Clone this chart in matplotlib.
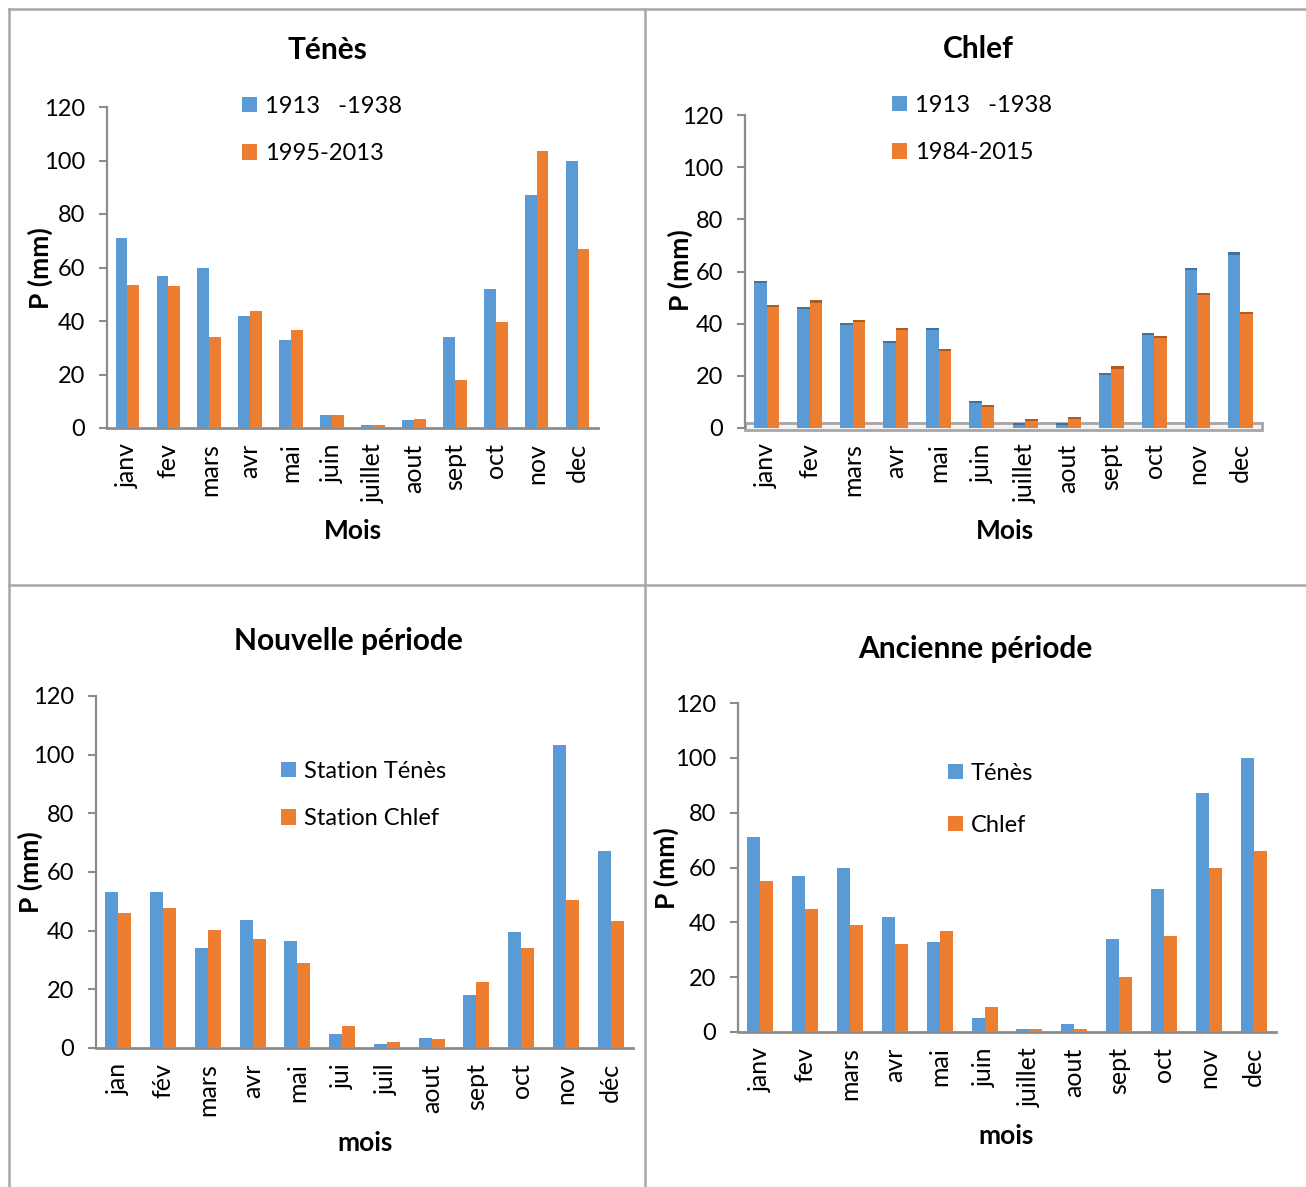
import numpy as np
import matplotlib
matplotlib.use("Agg")
import matplotlib.pyplot as plt
from matplotlib.patches import Patch, Rectangle
from matplotlib.lines import Line2D

plt.rcParams['font.family'] = ['Lato', 'DejaVu Sans']

# ---- data -------------------------------------------------------------
mois_a = ["janv", "fev", "mars", "avr", "mai", "juin", "juillet", "aout",
          "sept", "oct", "nov", "dec"]
mois_b = ["jan", "fév", "mars", "avr", "mai", "jui", "juil", "aout",
          "sept", "oct", "nov", "déc"]

tenes_1913_1938 = [71, 57, 60, 42, 33, 5, 1, 3, 34, 52, 87, 100]
tenes_1995_2013 = [53.5, 53.2, 34, 43.8, 36.6, 4.7, 1.2, 3.3, 18, 39.5, 103.5, 67]

chlef_1913_1938 = [56.3, 46.3, 40.3, 33.3, 38.2, 10.2, 2.0, 2.0, 21.2, 36.3, 61.3, 67.3]
chlef_1984_2015 = [47.3, 48.9, 41.5, 38.5, 30.2, 8.8, 3.3, 4.2, 23.6, 35.4, 51.7, 44.5]

nouv_tenes = [53.3, 53.2, 34, 43.7, 36.6, 4.7, 1.2, 3.3, 18, 39.5, 103.3, 67]
nouv_chlef = [46, 47.6, 40.3, 37.2, 29, 7.6, 2.1, 2.9, 22.4, 34.2, 50.3, 43.3]

anc_tenes = [71, 57, 60, 42, 33, 5, 1, 3, 34, 52, 87, 100]
anc_chlef = [55, 45, 39, 32, 37, 9, 1, 1, 20, 35, 60, 66]

yticks = [0, 20, 40, 60, 80, 100, 120]

BLUE = "#5B9BD5"
ORANGE = "#ED7D31"
BLUE_DK = "#41719C"
ORANGE_DK = "#AE5A21"
AXIS_GREY = "#8C8C8C"
FRAME_GREY = "#A6A6A6"

TITLE_FS = 21.5
LABEL_FS = 19
TICK_FS = 17
XTICK_FS = 18
LEG_FS = 17

W, H = 1306, 1187
fig = plt.figure(figsize=(W / 100, H / 100), dpi=100)
fig.patch.set_facecolor("white")


def fx(x):
    return x / W


def fy(y):
    return 1 - y / H


def px_axes(l, r, t, b):
    return fig.add_axes([fx(l), fy(b), (r - l) / W, (b - t) / H])


def style_axes(ax, labels, floor=False):
    ax.set_xlim(-0.5, 11.5)
    ax.set_ylim(0, 120)
    ax.set_yticks(yticks)
    ax.set_yticklabels([str(v) for v in yticks], fontsize=TICK_FS)
    ax.set_xticks(np.arange(12))
    ax.set_xticklabels(labels, rotation=90, fontsize=XTICK_FS)
    ax.tick_params(axis="x", length=0, pad=11)
    ax.tick_params(axis="y", length=6, width=1.5, color=AXIS_GREY, pad=10)
    for s in ("top", "right"):
        ax.spines[s].set_visible(False)
    ax.spines["left"].set_color(AXIS_GREY)
    ax.spines["left"].set_linewidth(1.6)
    ax.spines["bottom"].set_color(AXIS_GREY)
    ax.spines["bottom"].set_linewidth(2.0)
    if floor:
        ax.spines["bottom"].set_visible(False)
    ax.patch.set_alpha(0)


def draw_bars(ax, s1, s2, caps=False):
    x = np.arange(12)
    w = 0.29
    ax.bar(x - w / 2, s1, w, color=BLUE, zorder=3)
    ax.bar(x + w / 2, s2, w, color=ORANGE, zorder=3)
    if caps:
        cap = 0.8
        ax.bar(x - w / 2, [cap] * 12, w, bottom=np.array(s1) - cap,
               color=BLUE_DK, zorder=4)
        ax.bar(x + w / 2, [cap] * 12, w, bottom=np.array(s2) - cap,
               color=ORANGE_DK, zorder=4)


def add_legend(ax, labels, x, y, spacing):
    handles = [Patch(facecolor=BLUE, edgecolor="none"),
               Patch(facecolor=ORANGE, edgecolor="none")]
    ax.legend(handles, labels, loc="upper left",
              bbox_to_anchor=(fx(x), fy(y)), bbox_transform=fig.transFigure,
              frameon=False, fontsize=LEG_FS, handlelength=0.62,
              handleheight=0.62, handletextpad=0.35, labelspacing=spacing,
              borderpad=0, borderaxespad=0)


def bold_text(x, y, s, size, rotation=0):
    fig.text(fx(x), fy(y), s, ha="center", va="center", rotation=rotation,
             fontsize=size, fontweight="bold")


# ---- panel frame lines -----------------------------------------------
for (x0, y0, x1, y1) in [(9, 9, W, 9), (9, 9, 9, H), (645, 9, 645, H),
                         (9, 585, W, 585)]:
    fig.add_artist(Line2D([fx(x0), fx(x1)], [fy(y0), fy(y1)],
                          color=FRAME_GREY, lw=1.8))

# ---- Ténès -----------------------------------------------------------
ax1 = px_axes(107, 598, 107, 428)
draw_bars(ax1, tenes_1913_1938, tenes_1995_2013)
style_axes(ax1, mois_a)
add_legend(ax1, ["1913   -1938", "1995-2013"], 242, 96, 1.12)
bold_text(327, 50, "Ténès", TITLE_FS)
bold_text(40, 268, "P (mm)", LABEL_FS, rotation=90)
bold_text(353, 531, "Mois", LABEL_FS)

# ---- Chlef -----------------------------------------------------------
ax2 = px_axes(745, 1262, 115, 428)
ax2.add_patch(Rectangle((-0.5, -0.8), 12, 2.7, facecolor="#F4F4F4",
                        edgecolor=FRAME_GREY, lw=2, zorder=2, clip_on=False))
draw_bars(ax2, chlef_1913_1938, chlef_1984_2015, caps=True)
style_axes(ax2, mois_a, floor=True)
add_legend(ax2, ["1913   -1938", "1984-2015"], 892, 95, 1.12)
bold_text(978, 49, "Chlef", TITLE_FS)
bold_text(680, 270, "P (mm)", LABEL_FS, rotation=90)
bold_text(1005, 531, "Mois", LABEL_FS)

# ---- Nouvelle période ------------------------------------------------
ax3 = px_axes(96, 633, 696, 1048)
draw_bars(ax3, nouv_tenes, nouv_chlef)
style_axes(ax3, mois_b)
add_legend(ax3, ["Station Ténès", "Station Chlef"], 281, 761, 1.12)
bold_text(348, 641, "Nouvelle période", TITLE_FS)
bold_text(30, 872, "P (mm)", LABEL_FS, rotation=90)
bold_text(365, 1143, "mois", LABEL_FS)

# ---- Ancienne période ------------------------------------------------
ax4 = px_axes(738, 1276, 703, 1032)
draw_bars(ax4, anc_tenes, anc_chlef)
style_axes(ax4, mois_a)
add_legend(ax4, ["Ténès", "Chlef"], 948, 763, 1.3)
bold_text(975, 649, "Ancienne période", TITLE_FS)
bold_text(666, 868, "P (mm)", LABEL_FS, rotation=90)
bold_text(1006, 1136, "mois", LABEL_FS)

fig.savefig("out.png", dpi=100)
